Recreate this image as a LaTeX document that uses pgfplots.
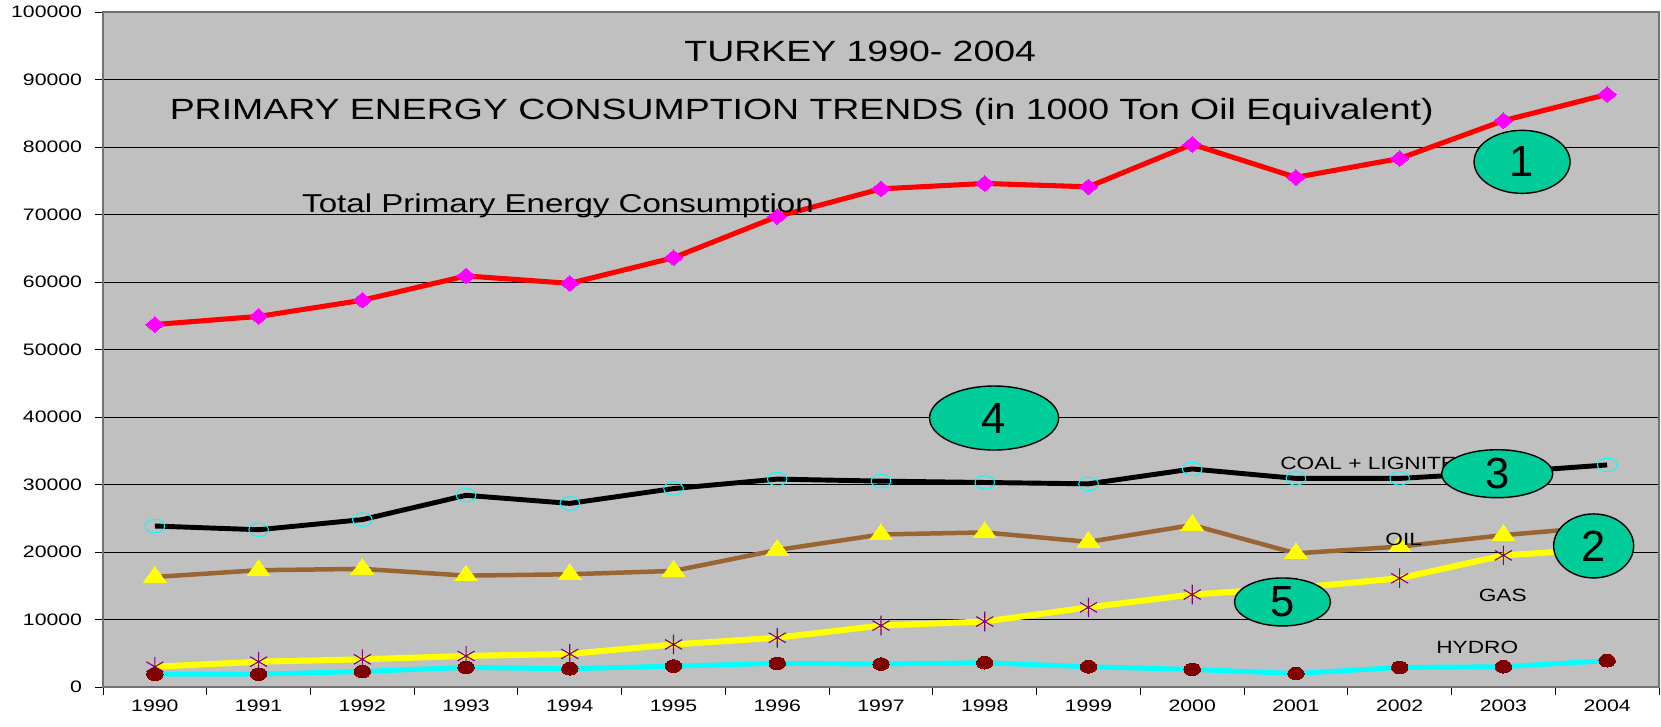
\documentclass[border=0pt]{standalone}
\usepackage{fontspec}
\setmainfont[FakeStretch=1.28]{Liberation Sans}
\newfontfamily\numfont{Liberation Sans}
\usepackage{pgfplots}
\pgfplotsset{compat=1.18}
\usepackage{pgfplotstable}
\definecolor{plotbg}{HTML}{C0C0C0}
\definecolor{totalred}{HTML}{FF0000}
\definecolor{totalmark}{HTML}{FF00FF}
\definecolor{coalmark}{HTML}{00FFFF}
\definecolor{oilbrown}{HTML}{996633}
\definecolor{oilmark}{HTML}{FFFF00}
\definecolor{gasline}{HTML}{FFFF00}
\definecolor{gasmark}{HTML}{800080}
\definecolor{hydroline}{HTML}{00FFFF}
\definecolor{hydrodot}{HTML}{800000}
\definecolor{bubble}{HTML}{00CC99}

% 1 = 1990 ... 15 = 2004, values in 1000 TOE
\pgfplotstableread{
yr total coal oil gas hydro
1 53700 23850 16300 3000 1900
2 54900 23300 17300 3750 1900
3 57300 24800 17500 4100 2300
4 60900 28400 16500 4600 2900
5 59800 27200 16700 4900 2700
6 63600 29400 17200 6300 3100
7 69700 30800 20300 7300 3500
8 73800 30500 22600 9100 3400
9 74600 30300 22900 9700 3600
10 74100 30100 21500 11800 3000
11 80400 32300 24000 13700 2600
12 75500 30900 19800 14700 2000
13 78300 30900 20800 16100 2900
14 83900 31800 22500 19500 3000
15 87800 32900 23800 20500 3900
}\energy

% labels and numbered bubbles go above the markers
\newcommand{\lbl}[4]{%
  \begin{pgfonlayer}{axis foreground}
  \node[anchor=base west, inner sep=0pt] at (axis cs:#1,#2) {\fontsize{#3}{#3}\selectfont #4};
  \end{pgfonlayer}}
\newcommand{\bubble}[5]{%
  \begin{pgfonlayer}{axis foreground}
  \draw[fill=bubble, draw=black, line width=1pt] (axis cs:#1,#2) ellipse [x radius=#3, y radius=#4];
  \node at (axis cs:#1,#2) {\numfont\fontsize{31}{31}\selectfont #5};
  \end{pgfonlayer}}

\begin{document}
\begin{tikzpicture}
\begin{axis}[
  set layers=standard,
  width=38.9cm, height=16.875cm, scale only axis,
  xmin=0.5, xmax=15.5, ymin=0, ymax=100000,
  axis background/.style={fill=plotbg},
  axis line style={draw=black!55, line width=0.8pt},
  xtick={1,...,15},
  xticklabels={1990,1991,1992,1993,1994,1995,1996,1997,1998,1999,2000,2001,2002,2003,2004},
  major x tick style={draw=none},
  minor xtick={0.5,1.5,...,15.5},
  ytick={0,10000,...,100000},
  xtick pos=left, ytick pos=left,
  scaled y ticks=false,
  tick align=outside,
  major tick length=0.2cm, minor tick length=0.2cm,
  tick style={black, line width=0.7pt},
  ymajorgrids,
  grid style={black, line width=0.6pt},
  /pgf/number format/fixed,
  /pgf/number format/precision=0,
  /pgf/number format/assume math mode=true,
  /pgf/number format/set thousands separator={},
  tick label style={font=\fontsize{11.8}{13}\selectfont},
  yticklabel style={xshift=-0.2cm},
  clip=false,
]
\addplot[totalred, line width=3.6pt, mark=diamond*, mark size=5.5pt,
  mark options={fill=totalmark, draw=totalmark, xscale=1.6, line width=0pt}]
  table[x=yr, y=total] {\energy};
\addplot[black, line width=3.5pt, mark=o, mark size=4.8pt,
  mark options={draw=coalmark, xscale=1.45, line width=0.7pt}]
  table[x=yr, y=coal] {\energy};
\addplot[oilbrown, line width=3.2pt, mark=triangle*, mark size=7.5pt,
  mark options={fill=oilmark, draw=oilmark, xscale=1.25, line width=0pt}]
  table[x=yr, y=oil] {\energy};
\addplot[gasline, line width=4.3pt, mark=asterisk, mark size=7pt,
  mark options={draw=gasmark, line width=0.8pt}]
  table[x=yr, y=gas] {\energy};
\addplot[hydroline, line width=3.5pt, mark=*, mark size=4.5pt,
  mark options={fill=hydrodot, draw=hydrodot, xscale=1.3, line width=0pt}]
  table[x=yr, y=hydro] {\energy};

\begin{pgfonlayer}{axis foreground}
\node[anchor=base] at (axis cs:7.80,92740) {\fontsize{20.8}{22}\selectfont TURKEY 1990- 2004};
\end{pgfonlayer}
\lbl{1.141}{84040}{20.8}{PRIMARY ENERGY CONSUMPTION TRENDS (in 1000 Ton Oil Equivalent)}
\lbl{2.418}{70270}{18.4}{Total Primary Energy Consumption}
\lbl{11.847}{32250}{12.6}{COAL + LIGNITE}
\lbl{12.86}{20900}{12.6}{OIL}
\lbl{13.76}{12740}{12.6}{GAS}
\lbl{13.35}{4990}{12.6}{HYDRO}

\bubble{14.18}{77800}{1.2cm}{0.7875cm}{1}
\bubble{9.09}{39850}{1.6125cm}{0.8cm}{4}
\bubble{13.94}{31600}{1.39cm}{0.6cm}{3}
\bubble{14.87}{20900}{1.0cm}{0.8cm}{2}
\bubble{11.87}{12600}{1.2cm}{0.6cm}{5}

\coordinate (sw) at (rel axis cs:0,0);
\coordinate (ne) at (rel axis cs:1,1);
\end{axis}
\pgfresetboundingbox
\path[use as bounding box] ([xshift=-2.575cm,yshift=-0.975cm]sw) rectangle ([xshift=0.05cm,yshift=0.3cm]ne);
\end{tikzpicture}
\end{document}
